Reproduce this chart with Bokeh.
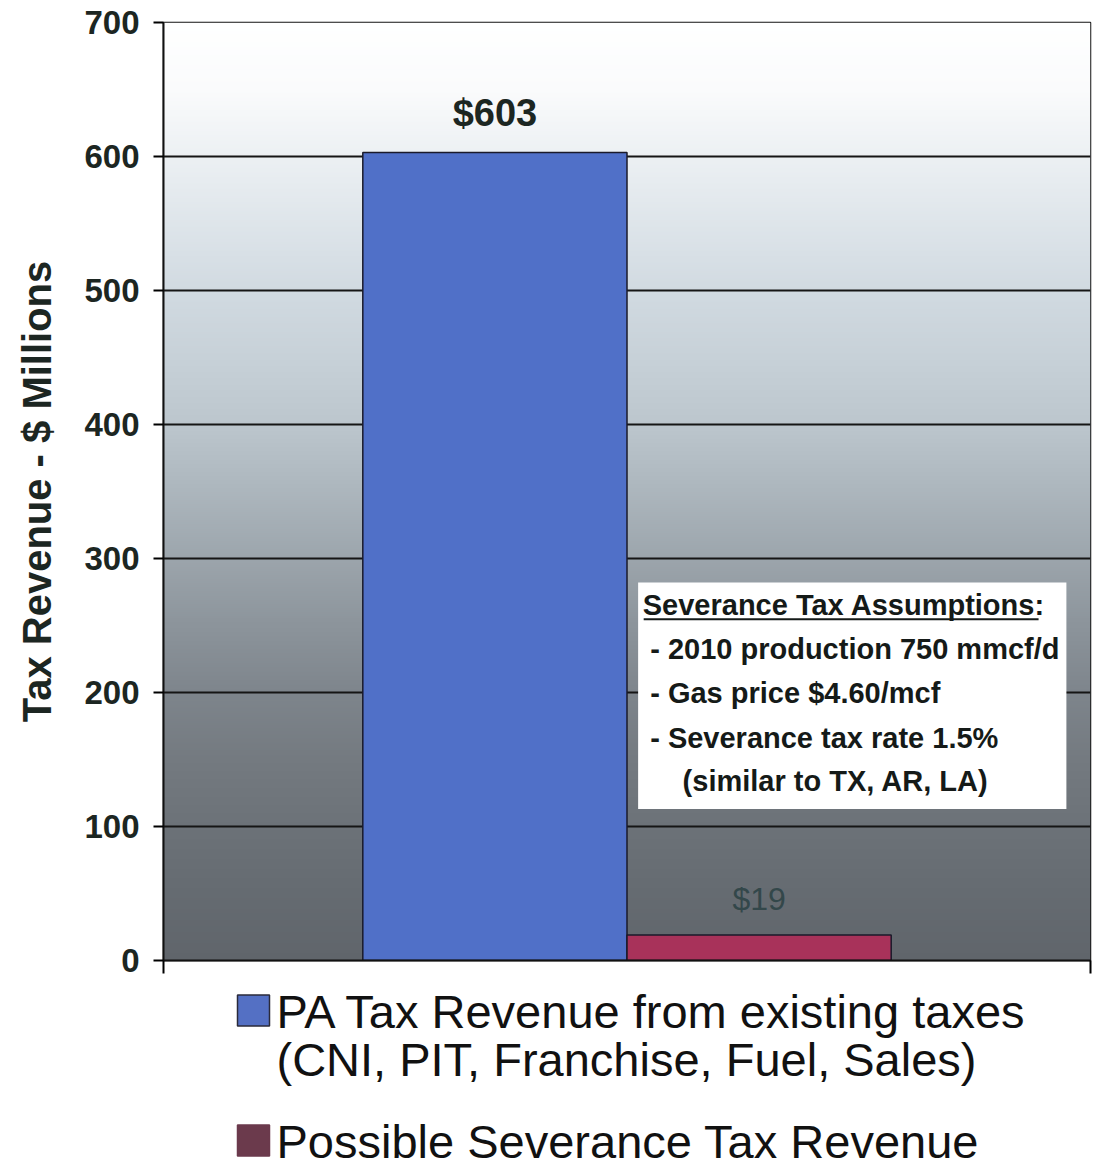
import numpy as np
from bokeh.plotting import figure
from bokeh.models import FixedTicker, Range1d, Label, BoxAnnotation, LinearColorMapper
from bokeh.layouts import column
from bokeh.core.properties import value
from bokeh.embed import file_html
from bokeh.resources import INLINE

# ---------------- data ----------------
series_names = ["PA Tax Revenue from existing taxes\n(CNI, PIT, Franchise, Fuel, Sales)",
                "Possible Severance Tax Revenue"]
series_values = [603, 19]
value_labels = ["$603", "$19"]
bar_colors = ["#5070c8", "#a8325a"]
legend_colors = ["#5470c4", "#6b3a4c"]
group_center = [0.5]
y_ticks = [0, 100, 200, 300, 400, 500, 600, 700]
assumption_title = "Severance Tax Assumptions:"
assumption_lines = ["- 2010 production 750 mmcf/d",
                    "- Gas price $4.60/mcf",
                    "- Severance tax rate 1.5%",
                    "(similar to TX, AR, LA)"]

# background gradient stops (value -> rgb)
grad_vals = [0, 50, 100, 150, 200, 250, 300, 350, 400, 450, 500, 550, 600, 650, 700]
grad_rgb = [(96, 101, 107), (101, 107, 113), (108, 114, 120), (116, 122, 128),
            (126, 133, 140), (140, 148, 155), (156, 165, 172), (172, 182, 189),
            (188, 198, 205), (199, 209, 216), (209, 218, 225), (222, 229, 234),
            (236, 240, 243), (250, 251, 252), (255, 255, 255)]

FONT = "Liberation Sans"
W = 1095
LEFT = 163
FRAME_W = 927
RIGHT = W - LEFT - FRAME_W

# ---------------- main chart ----------------
p = figure(width=W, height=983, output_backend="svg", toolbar_location=None,
           x_range=Range1d(0, 1), y_range=Range1d(0, 700),
           min_border_left=LEFT, min_border_right=RIGHT, min_border_top=22,
           min_border_bottom=23)
p.background_fill_color = "white"
p.border_fill_color = "white"
p.outline_line_color = "#111111"
p.outline_line_width = 1.5

# gradient background via image
n = 700
ys = np.linspace(0, 700, n)
rgb = np.array(grad_rgb, dtype=float)
r = np.interp(ys, grad_vals, rgb[:, 0])
g = np.interp(ys, grad_vals, rgb[:, 1])
b = np.interp(ys, grad_vals, rgb[:, 2])
palette = ["#%02x%02x%02x" % (int(round(a)), int(round(bb)), int(round(c)))
           for a, bb, c in zip(r, g, b)]
mapper = LinearColorMapper(palette=palette, low=0, high=700)
p.image(image=[ys.reshape(n, 1)], x=0, y=0, dw=1, dh=700, color_mapper=mapper,
        level="image")

# bars
bar_width = 0.285
xs = group_center[0] + (np.arange(len(series_values)) - 0.5) * bar_width
p.vbar(x=xs, top=series_values, bottom=0, width=bar_width, fill_color=bar_colors,
       line_color="#1a1a2a", line_width=1.5)

# value labels
p.text(x=[xs[0]], y=[series_values[0]], text=[value_labels[0]], y_offset=-39,
       text_align="center", text_baseline="middle", text_font=value(FONT),
       text_font_style="bold", text_font_size="38px", text_color="#1c2622")
p.text(x=[xs[1]], y=[series_values[1]], text=[value_labels[1]], y_offset=-36,
       text_align="center", text_baseline="middle", text_font=value(FONT),
       text_font_size="32px", text_color="#33474a")

# axes
p.xgrid.visible = False
p.ygrid.ticker = FixedTicker(ticks=y_ticks)
p.ygrid.grid_line_color = "#151515"
p.ygrid.grid_line_width = 2

p.yaxis.ticker = FixedTicker(ticks=y_ticks)
p.yaxis.axis_label = "Tax Revenue - $ Millions"
p.yaxis.axis_label_text_font = FONT
p.yaxis.axis_label_text_font_style = "bold"
p.yaxis.axis_label_text_font_size = "40px"
p.yaxis.axis_label_text_color = "#1c2622"
p.yaxis.axis_label_standoff = 22
p.yaxis.major_label_text_font = FONT
p.yaxis.major_label_text_font_style = "bold"
p.yaxis.major_label_text_font_size = "33px"
p.yaxis.major_label_text_color = "#1c2622"
p.yaxis.major_label_standoff = 14
p.yaxis.major_tick_out = 10
p.yaxis.major_tick_in = 0
p.yaxis.minor_tick_line_color = None
p.yaxis.axis_line_width = 2
p.yaxis.major_tick_line_width = 2
p.yaxis.axis_line_color = "#111111"

p.xaxis.ticker = FixedTicker(ticks=[0, 1])
p.xaxis.major_label_overrides = {0: " ", 1: " "}
p.xaxis.major_label_text_font_size = "2px"
p.xaxis.major_label_standoff = 0
p.xaxis.major_tick_out = 13
p.xaxis.major_tick_in = 0
p.xaxis.minor_tick_line_color = None
p.xaxis.axis_line_width = 2
p.xaxis.major_tick_line_width = 2
p.xaxis.axis_line_color = "#111111"

# assumptions box
p.add_layout(BoxAnnotation(left=0.512, right=0.974, bottom=113, top=282,
                           fill_color="white", fill_alpha=1.0, line_color=None))
p.add_layout(Label(x=0.517, y=265.5, text=assumption_title, text_font=FONT,
                   text_font_style="bold", text_font_size="29px",
                   text_color="#151a18", text_baseline="middle"))
p.add_layout(BoxAnnotation(left=0.518, right=0.944, bottom=254.0, top=255.4,
                           fill_color="#151a18", fill_alpha=1.0, line_color=None))
line_y = [232.8, 200.0, 166.4, 134.3]
line_x = [0.525, 0.525, 0.525, 0.560]
for txt, xx, yy in zip(assumption_lines, line_x, line_y):
    p.add_layout(Label(x=xx, y=yy, text=txt, text_font=FONT,
                       text_font_style="bold", text_font_size="29px",
                       text_color="#151a18", text_baseline="middle"))

# ---------------- legend figure ----------------
LH = 185
leg = figure(width=W, height=LH, output_backend="svg", toolbar_location=None,
             x_range=Range1d(LEFT, LEFT + FRAME_W), y_range=Range1d(LH, 0),
             min_border_left=LEFT, min_border_right=RIGHT, min_border_top=0,
             min_border_bottom=0)
leg.axis.visible = False
leg.grid.visible = False
leg.outline_line_color = None
leg.background_fill_color = "white"
leg.border_fill_color = "white"

row_y = [27, 157]
sq_x = [253, 253]
leg.rect(x=sq_x, y=row_y, width=32, height=31, width_units="screen",
         height_units="screen", fill_color=legend_colors,
         line_color=["#2a2a3a", "#6b3a4c"], line_width=1.5)
text_lines = []
text_y = []
for name, ry in zip(series_names, row_y):
    for k, part in enumerate(name.split("\n")):
        text_lines.append(part)
        text_y.append(ry + 1 + 48 * k)
leg.text(x=[276] * len(text_lines), y=text_y, text=text_lines,
         text_baseline="middle", text_align="left", text_font=value(FONT),
         text_font_size="47px", text_color="#111111")

layout = column(p, leg, spacing=0)
open("out.html", "w").write(file_html(layout, INLINE))
